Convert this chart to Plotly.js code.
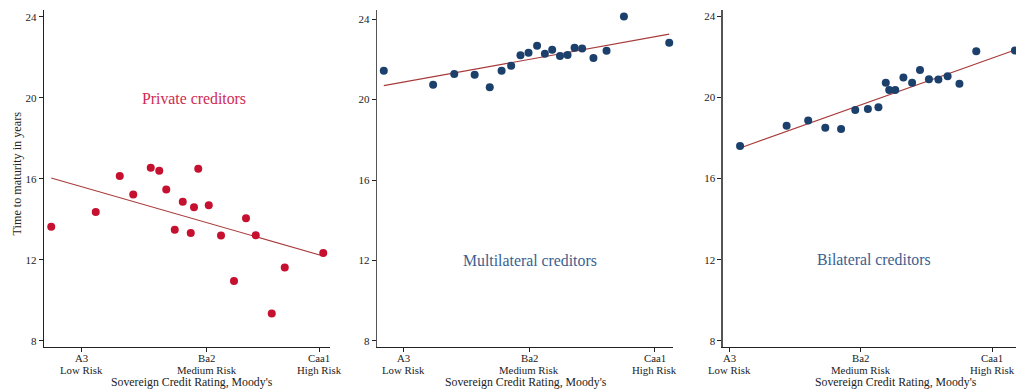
<!DOCTYPE html>
<html>
<head>
<meta charset="utf-8">
<script src="https://cdn.plot.ly/plotly-3.0.1.min.js"></script>
<style>html,body{margin:0;padding:0;background:#fff;}#chart{width:1016px;height:389px;}</style>
</head>
<body>
<div id="chart"></div>
<script>
// ---- Data (rating scale: A3 = 7, Ba2 = 12, Caa1 = 17) ----
const privX = [5.78, 7.56, 8.52, 9.06, 9.76, 10.10, 10.38, 10.72, 11.04, 11.36, 11.49, 11.66, 12.08, 12.57, 13.09, 13.57, 13.96, 14.60, 15.12, 16.66];
const privY = [13.64, 14.36, 16.14, 15.22, 16.54, 16.40, 15.47, 13.49, 14.87, 13.33, 14.60, 16.50, 14.70, 13.20, 10.96, 14.05, 13.22, 9.35, 11.62, 12.34];
const privFitX = [5.78, 16.66];
const privFitY = [16.04, 12.19];

const multX = [6.23, 8.19, 9.03, 9.84, 10.44, 10.91, 11.29, 11.66, 11.98, 12.32, 12.63, 12.92, 13.23, 13.53, 13.81, 14.11, 14.56, 15.08, 15.77, 17.57];
const multY = [21.43, 20.74, 21.27, 21.23, 20.61, 21.43, 21.68, 22.20, 22.33, 22.67, 22.28, 22.48, 22.16, 22.21, 22.57, 22.54, 22.06, 22.43, 24.13, 22.82];
const multFitX = [6.23, 17.57];
const multFitY = [20.69, 23.25];

const bilX = [7.41, 9.18, 10.00, 10.65, 11.25, 11.79, 12.27, 12.67, 12.95, 13.08, 13.31, 13.62, 13.95, 14.25, 14.59, 14.95, 15.30, 15.75, 16.39, 17.86];
const bilY = [17.61, 18.61, 18.86, 18.51, 18.45, 19.38, 19.43, 19.52, 20.73, 20.37, 20.37, 20.98, 20.73, 21.35, 20.90, 20.88, 21.04, 20.68, 22.28, 22.31];
const bilFitX = [7.41, 17.86];
const bilFitY = [17.51, 22.34];

const ratingLabels = ["A3", "Ba2", "Caa1"];
const riskLabels = ["Low Risk", "Medium Risk", "High Risk"];
const privTickVals = [7, 12, 16.5];
const otherTickVals = [7, 12, 17];
const yTickVals = [8, 12, 16, 20, 24];
const panelTitles = ["Private creditors", "Multilateral creditors", "Bilateral creditors"];
const xTitle = "Sovereign Credit Rating, Moody's";
const yTitle = "Time to maturity in years";

// ---- Styling ----
const W = 1016, H = 389;
const FONT = "Liberation Serif, Times New Roman, serif";
const red = "#c5102f", navy = "#1b406c", fitColor = "#a83a3a";
const textColor = "#222";

function scatter(x, y, color, xa, ya) {
  return {x: x, y: y, type: "scatter", mode: "markers", xaxis: xa, yaxis: ya,
    marker: {color: color, size: 8}, cliponaxis: false, hoverinfo: "skip", showlegend: false};
}
function fit(x, y, xa, ya) {
  return {x: x, y: y, type: "scatter", mode: "lines", xaxis: xa, yaxis: ya,
    line: {color: fitColor, width: 1.1}, hoverinfo: "skip", showlegend: false};
}

const data = [
  fit(privFitX, privFitY, "x", "y"),
  scatter(privX, privY, red, "x", "y"),
  fit(multFitX, multFitY, "x2", "y2"),
  scatter(multX, multY, navy, "x2", "y2"),
  fit(bilFitX, bilFitY, "x3", "y3"),
  scatter(bilX, bilY, navy, "x3", "y3")
];

function xaxis(l, r, range, tv, anchor) {
  return {domain: [l / W, r / W], range: range, anchor: anchor,
    tickmode: "array", tickvals: tv, showticklabels: false,
    ticks: "outside", ticklen: 4, tickcolor: textColor, tickwidth: 1,
    showline: true, linecolor: "#222", linewidth: 1.3,
    showgrid: false, zeroline: false};
}
function yaxis(top, bottom, range, anchor, lineColor) {
  return {domain: [(H - bottom) / H, (H - top) / H], range: range, anchor: anchor,
    tickmode: "array", tickvals: yTickVals,
    ticks: "outside", ticklen: 4, tickcolor: textColor, tickwidth: 1,
    showline: true, linecolor: lineColor, linewidth: 1.3,
    showgrid: false, zeroline: false,
    tickfont: {family: FONT, size: 11, color: textColor}};
}

const annotations = [
  {text: panelTitles[0], xref: "x", yref: "y", x: 11.49, y: 19.97, showarrow: false,
    font: {family: FONT, size: 15.8, color: "#d02a52"}},
  {text: panelTitles[1], xref: "x2", yref: "y2", x: 12.03, y: 12.0, showarrow: false,
    font: {family: FONT, size: 15.8, color: "#3a618f"}},
  {text: panelTitles[2], xref: "x3", yref: "y3", x: 12.5, y: 12.0, showarrow: false,
    font: {family: FONT, size: 15.8, color: "#3a618f"}},
  {text: yTitle, xref: "paper", yref: "paper", x: 16 / W, y: (H - 173.5) / H, textangle: -90,
    showarrow: false, xanchor: "center", yanchor: "middle", borderpad: 0,
    font: {family: FONT, size: 12.2, color: textColor}}
];
// two-line tick labels (rating / risk level) and x-axis titles
const axisIds = ["x", "x2", "x3"];
const tickSets = [privTickVals, otherTickVals, otherTickVals];
const titleCenters = [192, 526, 896];
axisIds.forEach((ax, i) => {
  tickSets[i].forEach((v, j) => {
    annotations.push({text: ratingLabels[j], xref: ax, yref: "paper", x: v, y: (H - 358) / H,
      showarrow: false, xanchor: "center", yanchor: "middle", borderpad: 0,
      font: {family: FONT, size: 10.8, color: textColor}});
    annotations.push({text: riskLabels[j], xref: ax, yref: "paper", x: v, y: (H - 370) / H,
      showarrow: false, xanchor: "center", yanchor: "middle", borderpad: 0,
      font: {family: FONT, size: 10.8, color: textColor}});
  });
  annotations.push({text: xTitle, xref: "paper", yref: "paper", x: titleCenters[i] / W, y: (H - 382) / H,
    showarrow: false, xanchor: "center", yanchor: "middle", borderpad: 0,
    font: {family: FONT, size: 11.8, color: textColor}});
});

const layout = {
  width: W, height: H,
  margin: {l: 0, r: 0, t: 0, b: 0},
  paper_bgcolor: "#fff", plot_bgcolor: "#fff",
  font: {family: FONT},
  xaxis: xaxis(44, 330, [5.49, 16.93], privTickVals, "y"),
  yaxis: yaxis(10, 347, [7.70, 24.33], "x", "#222"),
  xaxis2: xaxis(377, 673, [5.96, 17.72], otherTickVals, "y2"),
  yaxis2: yaxis(10, 347, [7.70, 24.45], "x2", "#555"),
  xaxis3: xaxis(722.7, 1016, [6.75, 17.90], otherTickVals, "y3"),
  yaxis3: yaxis(10, 347, [7.70, 24.31], "x3", "#555"),
  annotations: annotations
};

Plotly.newPlot("chart", data, layout, {staticPlot: true, displayModeBar: false});
</script>
</body>
</html>
